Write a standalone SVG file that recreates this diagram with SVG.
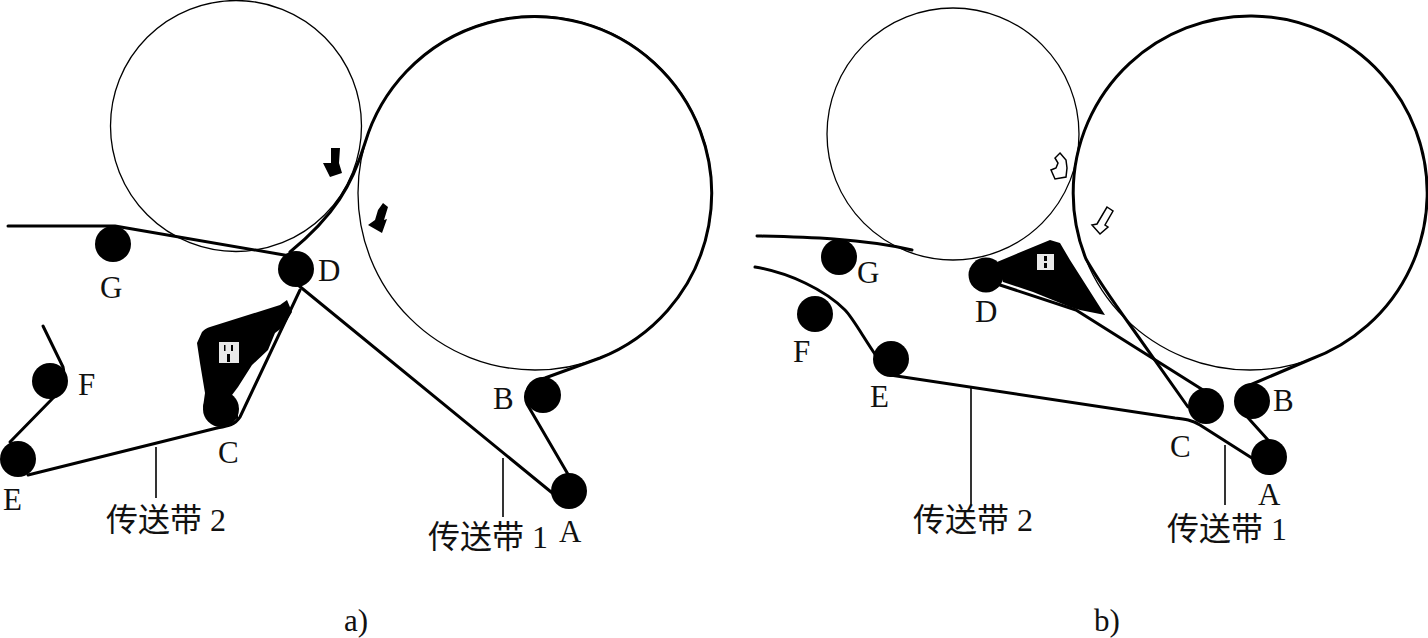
<svg xmlns="http://www.w3.org/2000/svg" width="1428" height="638" viewBox="0 0 1428 638">
<style>
.drum{fill:none;stroke:#000;stroke-width:1.3}
.belt{fill:none;stroke:#000;stroke-width:3;stroke-linejoin:round;stroke-linecap:round}
.lead{fill:none;stroke:#000;stroke-width:1.6}
.roller{fill:#000}
.blob{fill:#000}
.mark{fill:#e8e8e8}
.arrow-o{fill:#fff;stroke:#000;stroke-width:1.5}
text{font-family:"Liberation Serif","Noto Sans CJK SC",serif;fill:#111}
.l{font-size:31px}
.c{font-size:32px}
</style>
<g id="drums">
<circle id="drum-a-small" class="drum" cx="236" cy="126" r="125.5"/>
<circle id="drum-a-big" class="drum" cx="535" cy="193" r="177"/>
<circle id="drum-b-small" class="drum" cx="953" cy="134" r="126"/>
<circle id="drum-b-big" class="drum" cx="1250" cy="193" r="177"/>
</g>
<g id="connectors">
<path class="belt" d="M569 476L527 404C522 392 530 381 545 378L600 358A177 177 0 1 0 365 143C352 185 335 215 290 252"/>
<path class="belt" d="M298 285L556 496"/>
<path class="belt" d="M43 326L63 367C66 378 60 388 54 397L10 442"/>
<path class="belt" d="M28 475L217 428C228 426 235 425 240 417L300 290"/>
<path class="belt" d="M8 226H115L290 256"/>
<path class="belt" d="M1268 440L1250 420C1235 405 1235 392 1250 385L1310 359.5A177 177 0 1 0 1086 259C1098 280 1112 300 1130 325L1188 407"/>
<path class="belt" d="M1000 285L1076 310L1203 390"/>
<path class="belt" d="M1255 460L1200 425C1192 420 1185 419 1175 418L890 375C870 350 855 320 845 310C825 290 790 273 755 267"/>
<path class="belt" d="M757 236C800 237 860 238 912 250"/>
<path class="lead" d="M156 447V498"/>
<path class="lead" d="M503 458V517"/>
<path class="lead" d="M971 388V505"/>
<path class="lead" d="M1225 445V505"/>
</g>
<g id="roller-a-A"><circle class="roller" cx="569" cy="491" r="18"/><text class="l" x="559" y="542">A</text></g>
<g id="roller-a-B"><circle class="roller" cx="543" cy="395" r="18"/><text class="l" x="493" y="409">B</text></g>
<g id="roller-a-C">
<path class="blob" d="M202 332C205 329 207 328 210 327L280 305L287 300L292 312L283 327L275 333L268 350L252 365L238 387L232 395L238 407L238 418L223 427L208 420L203 407L205 393L200 363L197 343Z"/>
<circle class="roller" cx="221" cy="409" r="18"/>
<path class="mark" d="M219 342h20v21h-20zM224 345v6h1.500v-6zM231 345v6h2v-6zM227 354v8h3v-8z" fill-rule="evenodd"/>
<text class="l" x="218" y="463">C</text>
</g>
<g id="roller-a-D"><circle class="roller" cx="296" cy="269" r="18"/><text class="l" x="318" y="281">D</text></g>
<g id="roller-a-E"><circle class="roller" cx="18" cy="459" r="18"/><text class="l" x="3" y="510">E</text></g>
<g id="roller-a-F"><circle class="roller" cx="50" cy="381" r="18"/><text class="l" x="78" y="395">F</text></g>
<g id="roller-a-G"><circle class="roller" cx="113" cy="244" r="18"/><text class="l" x="100" y="298">G</text></g>
<g id="roller-b-A"><circle class="roller" cx="1269" cy="457" r="18"/><text class="l" x="1258" y="505">A</text></g>
<g id="roller-b-B"><circle class="roller" cx="1252" cy="401" r="18"/><text class="l" x="1273" y="411">B</text></g>
<g id="roller-b-C"><circle class="roller" cx="1206" cy="406" r="18"/><text class="l" x="1170" y="457">C</text></g>
<g id="roller-b-D">
<circle class="roller" cx="986" cy="275" r="17.500"/>
<path class="blob" d="M997 262L1050 240L1060 243L1070 260L1105 315L1080 310L1070 307L1033 292L1003 282Z"/>
<path class="mark" d="M1037 254h17v16h-17zM1044 256v5h3v-5zM1044 263v5h3v-5z" fill-rule="evenodd"/>
<text class="l" x="975" y="322">D</text>
</g>
<g id="roller-b-E"><circle class="roller" cx="891" cy="359" r="18"/><text class="l" x="870" y="407">E</text></g>
<g id="roller-b-F"><circle class="roller" cx="815" cy="314" r="18"/><text class="l" x="793" y="362">F</text></g>
<g id="roller-b-G"><circle class="roller" cx="839" cy="257" r="18"/><text class="l" x="857" y="283">G</text></g>
<g id="arrows">
<path class="blob" d="M331 148L340 148L339 163L342 173L330 177L323 163L331 163Z"/>
<path class="blob" d="M383 203L388 207L384 220L387 219L382 233L368 225L375 220L378 210Z"/>
<path class="arrow-o" d="M1060 153L1066 160L1067 168L1066 177L1055 179L1051 170L1056 168L1058 163L1055 158Z"/>
<path class="arrow-o" d="M1107 207L1113 211L1105 225L1108 227L1100 234L1092 225L1097 224Z"/>
</g>
<g id="labels">
<text class="c" x="106" y="531">传送带 2</text>
<text class="c" x="428" y="548">传送带 1</text>
<text class="c" x="913" y="531">传送带 2</text>
<text class="c" x="1167" y="540">传送带 1</text>
<text class="l" x="344" y="631">a)</text>
<text class="l" x="1094" y="631">b)</text>
</g>
</svg>
